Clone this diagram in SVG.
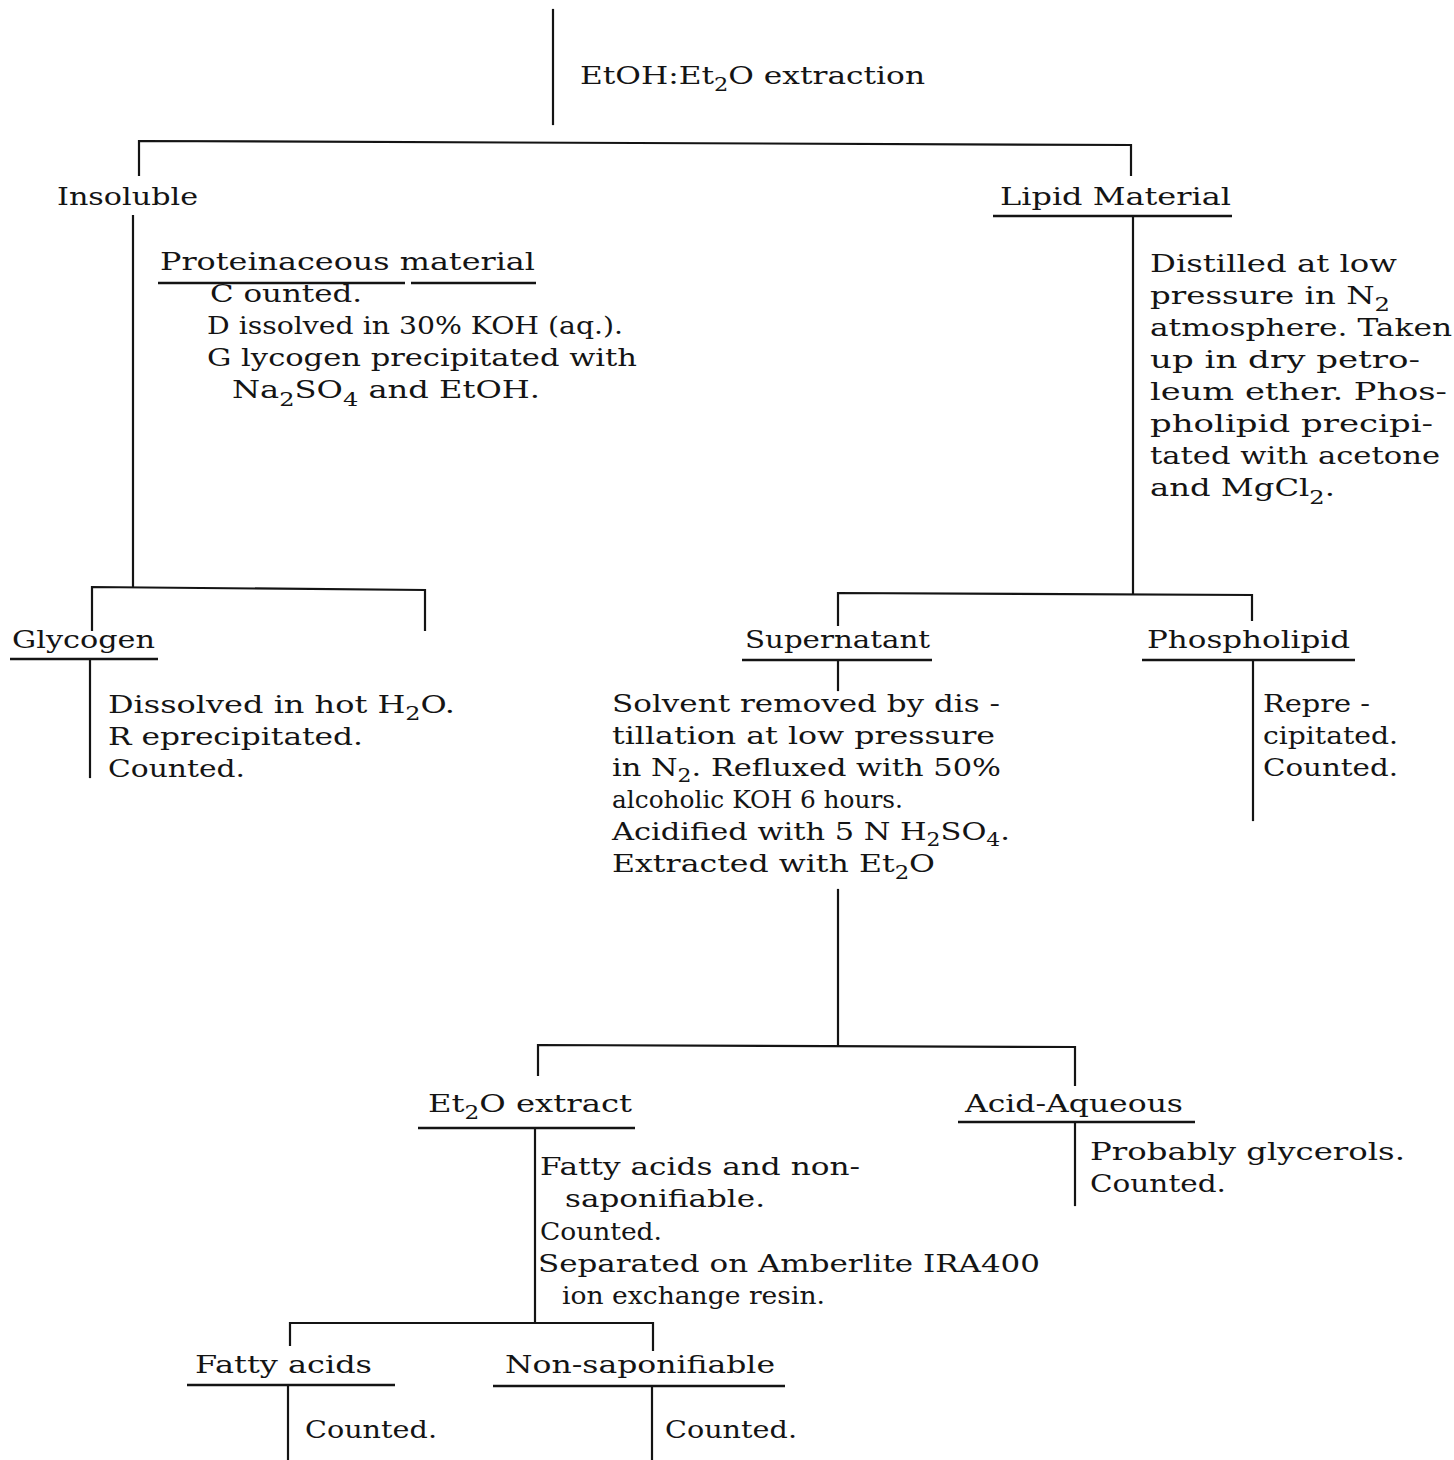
<svg xmlns="http://www.w3.org/2000/svg" width="1454" height="1460" viewBox="0 0 1454 1460">
<style>
.bg{fill:#ffffff}
.ln{stroke:#141414;stroke-width:2.2;fill:none;stroke-linecap:square}
.ul{stroke:#141414;stroke-width:2.4;fill:none}
.w{font-family:"DejaVu Serif","Liberation Serif",serif;font-size:24px;fill:#141414}
.c{font-family:"DejaVu Serif","Liberation Serif",serif;font-size:25px;fill:#141414}
.s{font-size:18px}
</style>
<rect class="bg" x="0" y="0" width="1454" height="1460"/>
<g id="connectors">
<line class="ln" x1="553" y1="10" x2="553" y2="124"/>
<polyline class="ln" points="139,175 139,141 1131,145 1131,175"/>
<line class="ln" x1="133" y1="216" x2="133" y2="587"/>
<polyline class="ln" points="92,630 92,587 425,590 425,630"/>
<line class="ln" x1="1133" y1="217" x2="1133" y2="593"/>
<polyline class="ln" points="838,625 838,593 1252,595 1252,620"/>
<line class="ln" x1="90" y1="660" x2="90" y2="777"/>
<line class="ln" x1="838" y1="661" x2="838" y2="690"/>
<line class="ln" x1="1253" y1="661" x2="1253" y2="820"/>
<line class="ln" x1="838" y1="890" x2="838" y2="1045"/>
<polyline class="ln" points="538,1075 538,1045 1075,1047 1075,1085"/>
<line class="ln" x1="535" y1="1129" x2="535" y2="1322"/>
<line class="ln" x1="1075" y1="1124" x2="1075" y2="1205"/>
<polyline class="ln" points="290,1345 290,1323 653,1323 653,1350"/>
<line class="ln" x1="288" y1="1386" x2="288" y2="1460"/>
<line class="ln" x1="652" y1="1387" x2="652" y2="1460"/>
</g>
<g id="node-extraction">
<text class="c" x="580" y="84" textLength="345" lengthAdjust="spacingAndGlyphs">EtOH:Et<tspan class="s" dy="7">2</tspan><tspan dy="-7">O extraction</tspan></text>
</g>
<g id="node-insoluble">
<text class="c" x="57" y="205" textLength="141" lengthAdjust="spacingAndGlyphs">Insoluble</text>
</g>
<g id="node-proteinaceous">
<text class="w" x="160" y="270" textLength="375" lengthAdjust="spacingAndGlyphs">Proteinaceous material</text>
<line class="ul" x1="158" y1="283" x2="405" y2="283"/>
<line class="ul" x1="411" y1="283" x2="536" y2="283"/>
<text class="w" x="210" y="302" textLength="152" lengthAdjust="spacingAndGlyphs">C ounted.</text>
<text class="w" x="207" y="334" textLength="416" lengthAdjust="spacingAndGlyphs">D issolved in 30% KOH (aq.).</text>
<text class="w" x="207" y="366" textLength="430" lengthAdjust="spacingAndGlyphs">G lycogen precipitated with</text>
<text class="w" x="232" y="398" textLength="308" lengthAdjust="spacingAndGlyphs">Na<tspan class="s" dy="8">2</tspan><tspan dy="-8">SO</tspan><tspan class="s" dy="8">4</tspan><tspan dy="-8"> and EtOH.</tspan></text>
</g>
<g id="node-lipid">
<text class="w" x="1000" y="205" textLength="231" lengthAdjust="spacingAndGlyphs">Lipid Material</text>
<line class="ul" x1="993" y1="216" x2="1232" y2="216"/>
<text class="w" x="1150" y="272" textLength="247" lengthAdjust="spacingAndGlyphs">Distilled at low</text>
<text class="w" x="1150" y="304" textLength="240" lengthAdjust="spacingAndGlyphs">pressure in N<tspan class="s" dy="7">2</tspan></text>
<text class="w" x="1150" y="336" textLength="302" lengthAdjust="spacingAndGlyphs">atmosphere.  Taken</text>
<text class="w" x="1150" y="368" textLength="270" lengthAdjust="spacingAndGlyphs">up in dry petro-</text>
<text class="w" x="1150" y="400" textLength="297" lengthAdjust="spacingAndGlyphs">leum ether. Phos-</text>
<text class="w" x="1150" y="432" textLength="283" lengthAdjust="spacingAndGlyphs">pholipid precipi-</text>
<text class="w" x="1150" y="464" textLength="290" lengthAdjust="spacingAndGlyphs">tated with acetone</text>
<text class="w" x="1150" y="496" textLength="185" lengthAdjust="spacingAndGlyphs">and MgCl<tspan class="s" dy="8">2</tspan><tspan dy="-8">.</tspan></text>
</g>
<g id="node-glycogen">
<text class="w" x="12" y="648" textLength="143" lengthAdjust="spacingAndGlyphs">Glycogen</text>
<line class="ul" x1="10" y1="659" x2="158" y2="659"/>
<text class="w" x="108" y="713" textLength="347" lengthAdjust="spacingAndGlyphs">Dissolved in hot H<tspan class="s" dy="7">2</tspan><tspan dy="-7">O.</tspan></text>
<text class="w" x="108" y="745" textLength="255" lengthAdjust="spacingAndGlyphs">R eprecipitated.</text>
<text class="w" x="108" y="777" textLength="137" lengthAdjust="spacingAndGlyphs">Counted.</text>
</g>
<g id="node-supernatant">
<text class="c" x="745" y="648" textLength="185" lengthAdjust="spacingAndGlyphs">Supernatant</text>
<line class="ul" x1="742" y1="660" x2="932" y2="660"/>
<text class="c" x="612" y="712" textLength="388" lengthAdjust="spacingAndGlyphs">Solvent removed by dis -</text>
<text class="c" x="612" y="744" textLength="383" lengthAdjust="spacingAndGlyphs">tillation at low pressure</text>
<text class="c" x="612" y="776" textLength="389" lengthAdjust="spacingAndGlyphs">in N<tspan class="s" dy="6">2</tspan><tspan dy="-6">.   Refluxed with 50%</tspan></text>
<text class="c" x="612" y="808" textLength="291" lengthAdjust="spacingAndGlyphs">alcoholic KOH 6 hours.</text>
<text class="c" x="612" y="840" textLength="398" lengthAdjust="spacingAndGlyphs">Acidified with 5 N  H<tspan class="s" dy="6">2</tspan><tspan dy="-6">SO</tspan><tspan class="s" dy="6">4</tspan><tspan dy="-6">.</tspan></text>
<text class="c" x="612" y="872" textLength="323" lengthAdjust="spacingAndGlyphs">Extracted with Et<tspan class="s" dy="7">2</tspan><tspan dy="-7">O</tspan></text>
</g>
<g id="node-phospholipid">
<text class="c" x="1147" y="648" textLength="203" lengthAdjust="spacingAndGlyphs">Phospholipid</text>
<line class="ul" x1="1142" y1="660" x2="1355" y2="660"/>
<text class="c" x="1263" y="712" textLength="107" lengthAdjust="spacingAndGlyphs">Repre -</text>
<text class="c" x="1263" y="744" textLength="135" lengthAdjust="spacingAndGlyphs">cipitated.</text>
<text class="c" x="1263" y="776" textLength="135" lengthAdjust="spacingAndGlyphs">Counted.</text>
</g>
<g id="node-et2o-extract">
<text class="c" x="428" y="1112" textLength="204" lengthAdjust="spacingAndGlyphs">Et<tspan class="s" dy="7">2</tspan><tspan dy="-7">O extract</tspan></text>
<line class="ul" x1="418" y1="1128" x2="635" y2="1128"/>
<text class="c" x="540" y="1175" textLength="320" lengthAdjust="spacingAndGlyphs">Fatty acids and non-</text>
<text class="c" x="565" y="1207" textLength="200" lengthAdjust="spacingAndGlyphs">saponifiable.</text>
<text class="c" x="540" y="1240" textLength="122" lengthAdjust="spacingAndGlyphs">Counted.</text>
<text class="c" x="538" y="1272" textLength="502" lengthAdjust="spacingAndGlyphs">Separated on Amberlite IRA400</text>
<text class="c" x="562" y="1304" textLength="263" lengthAdjust="spacingAndGlyphs">ion exchange resin.</text>
</g>
<g id="node-acid-aqueous">
<text class="c" x="965" y="1112" textLength="218" lengthAdjust="spacingAndGlyphs">Acid-Aqueous</text>
<line class="ul" x1="958" y1="1122" x2="1195" y2="1122"/>
<text class="c" x="1090" y="1160" textLength="315" lengthAdjust="spacingAndGlyphs">Probably glycerols.</text>
<text class="c" x="1090" y="1192" textLength="136" lengthAdjust="spacingAndGlyphs">Counted.</text>
</g>
<g id="node-fatty-acids">
<text class="w" x="195" y="1373" textLength="177" lengthAdjust="spacingAndGlyphs">Fatty acids</text>
<line class="ul" x1="187" y1="1385" x2="395" y2="1385"/>
<text class="w" x="305" y="1438" textLength="132" lengthAdjust="spacingAndGlyphs">Counted.</text>
</g>
<g id="node-non-saponifiable">
<text class="w" x="505" y="1373" textLength="270" lengthAdjust="spacingAndGlyphs">Non-saponifiable</text>
<line class="ul" x1="493" y1="1386" x2="785" y2="1386"/>
<text class="w" x="665" y="1438" textLength="132" lengthAdjust="spacingAndGlyphs">Counted.</text>
</g>
</svg>
